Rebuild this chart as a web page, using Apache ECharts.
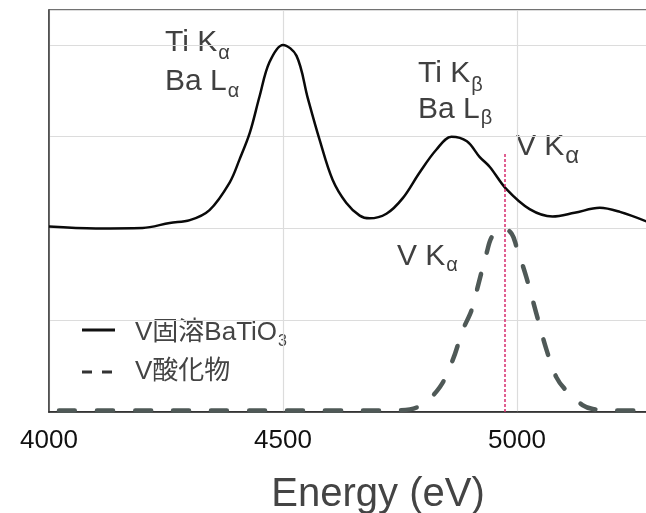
<!DOCTYPE html>
<html>
<head>
<meta charset="utf-8">
<script src="https://cdn.jsdelivr.net/npm/echarts@6/dist/echarts.min.js"></script>
<style>
  html, body { margin: 0; padding: 0; background: #fff; }
  #chart { width: 646px; height: 513px; }
</style>
</head>
<body>
<div id="chart"></div>
<script>
// X-ray emission spectrum: V-doped BaTiO3 vs. vanadium oxide reference
const xTicks = [4000, 4500, 5000];

// V固溶BaTiO3 (solid curve)
const solidEnergy = [4000, 4100, 4200, 4258, 4301, 4343, 4386, 4407, 4429, 4450, 4471, 4500,
  4529, 4553, 4578, 4606, 4635, 4664, 4685, 4721, 4756, 4792, 4828, 4860, 4893, 4920,
  4942, 4977, 5027, 5076, 5123, 5177, 5220, 5280];
const solidCounts = [2.02, 2.00, 2.005, 2.06, 2.09, 2.20, 2.50, 2.75, 3.04, 3.44, 3.81, 4.00,
  3.88, 3.42, 2.97, 2.53, 2.28, 2.14, 2.11, 2.16, 2.33, 2.61, 2.86, 3.00, 2.95, 2.78,
  2.67, 2.43, 2.21, 2.13, 2.17, 2.225, 2.18, 2.07];

// V酸化物 (dashed curve)
const oxideEnergy = [4000, 4200, 4400, 4600, 4749, 4792, 4835, 4863, 4884, 4903, 4916, 4935,
  4948, 4972, 4989, 4999, 5020, 5041, 5063, 5084, 5106, 5140, 5162, 5200, 5280];
const oxideCounts = [0.015, 0.015, 0.015, 0.015, 0.02, 0.065, 0.27, 0.57, 0.89, 1.11, 1.36, 1.73,
  1.92, 2.00, 1.94, 1.80, 1.47, 1.08, 0.68, 0.38, 0.23, 0.076, 0.033, 0.015, 0.015];

// V Kα marker position and its top
const vKaEnergy = 4974;
const vKaMarkerTop = 2.83;

const seriesNames = ['V固溶BaTiO3', 'V酸化物'];

const zip = (xs, ys) => xs.map((x, i) => [x, ys[i]]);

const FONT = '"Liberation Sans", Arial, "Noto Sans CJK JP", sans-serif';
const LABEL_COLOR = '#404040';

// measure text so a subscript sits right after its base text
const measureCtx = document.createElement('canvas').getContext('2d');
function textWidth(text, font) {
  measureCtx.font = font;
  return measureCtx.measureText(text).width;
}

function label(x, y, main, sub, size, subSize, subDy, color) {
  const mainFont = size + 'px ' + FONT;
  const subFont = subSize + 'px ' + FONT;
  const fill = color || LABEL_COLOR;
  return {
    type: 'group',
    children: [
      { type: 'text', x: x, y: y,
        style: { text: main, font: mainFont, fill: fill, verticalAlign: 'middle' } },
      { type: 'text', x: x + textWidth(main, mainFont) + 1, y: y + subDy,
        style: { text: sub, font: subFont, fill: fill, verticalAlign: 'middle' } }
    ]
  };
}

const chart = echarts.init(document.getElementById('chart'), null, { renderer: 'canvas' });

chart.setOption({
  animation: false,
  backgroundColor: '#fff',
  grid: {
    left: 49, width: 599, top: 10, height: 402,
    outerBoundsMode: 'none', containLabel: false,
    show: true, borderColor: '#444', borderWidth: 1.5, backgroundColor: 'transparent'
  },
  xAxis: {
    type: 'value', min: 4000, max: 5280, interval: 500,
    axisLine: { show: true, lineStyle: { color: '#222', width: 1.5 } },
    axisTick: { show: false },
    axisLabel: {
      margin: 16, color: '#111', fontSize: 26, fontFamily: FONT,
      formatter: v => (xTicks.includes(v) ? String(v) : '')
    },
    splitLine: { show: true, lineStyle: { color: '#dcdcdc', width: 1.2 } }
  },
  yAxis: {
    type: 'value', min: 0, max: 4.38, interval: 1,
    axisLine: { show: true, lineStyle: { color: '#444', width: 1.5 } },
    axisTick: { show: false },
    axisLabel: { show: false },
    splitLine: { show: true, lineStyle: { color: '#dcdcdc', width: 1.2 } }
  },
  series: [
    {
      name: seriesNames[1], type: 'line', data: zip(oxideEnergy, oxideCounts),
      smooth: 0.35, showSymbol: false, symbol: 'none',
      lineStyle: { color: '#4f5957', width: 4.5, type: [16, 22], dashOffset: 28, cap: 'round' },
      z: 2
    },
    {
      name: seriesNames[0], type: 'line', data: zip(solidEnergy, solidCounts),
      smooth: 0.35, showSymbol: false, symbol: 'none',
      lineStyle: { color: '#0a0a0a', width: 2.5 },
      z: 3,
      markLine: {
        silent: true, symbol: 'none', label: { show: false },
        lineStyle: { color: '#d62d6e', width: 1.5, type: [3, 2] },
        data: [[{ coord: [vKaEnergy, 0] }, { coord: [vKaEnergy, vKaMarkerTop] }]]
      }
    }
  ],
  graphic: [
    label(165, 43, 'Ti K', 'α', 30, 20, 10),
    label(165, 82, 'Ba L', 'α', 30, 20, 9),
    label(418, 74, 'Ti K', 'β', 30, 20, 11),
    label(418, 110, 'Ba L', 'β', 30, 20, 8),
    label(516, 147, 'V K', 'α', 30, 24, 9),
    label(397, 257, 'V K', 'α', 30, 20, 8),
    // legend
    { type: 'line', shape: { x1: 82, y1: 330, x2: 115, y2: 330 },
      style: { stroke: '#111', lineWidth: 3 } },
    { type: 'line', shape: { x1: 82, y1: 372, x2: 115, y2: 372 },
      style: { stroke: '#333', lineWidth: 3, lineDash: [10, 10] } },
    label(135, 333, 'V固溶BaTiO', '3', 26, 16, 9, '#444'),
    { type: 'text', x: 135, y: 372,
      style: { text: 'V酸化物', font: '26px ' + FONT, fill: '#444', verticalAlign: 'middle' } },
    // axis title
    { type: 'text', x: 378, y: 495,
      style: { text: 'Energy (eV)', font: '40px ' + FONT, fill: '#444', align: 'center', verticalAlign: 'middle' } }
  ]
});
</script>
</body>
</html>
